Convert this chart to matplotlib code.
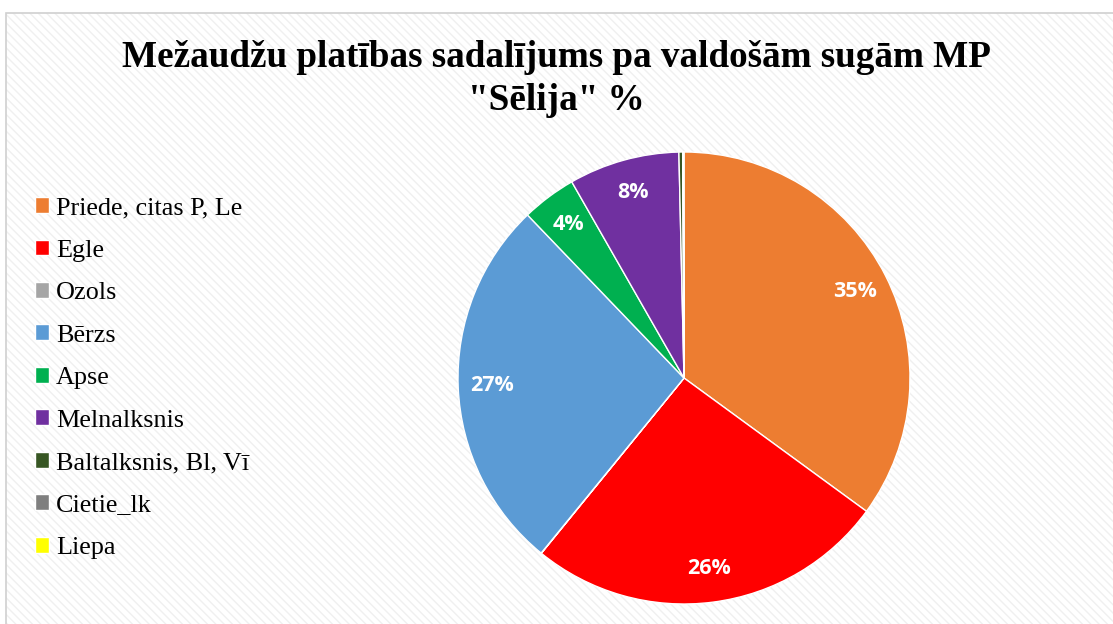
import matplotlib
matplotlib.use("Agg")
import matplotlib.pyplot as plt
from matplotlib.patches import Rectangle

categories = ["Priede, citas P, Le", "Egle", "Ozols", "Bērzs", "Apse",
              "Melnalksnis", "Baltalksnis, Bl, Vī", "Cietie_lk", "Liepa"]
values = [35.0, 25.8, 0.02, 26.9, 3.9, 7.9, 0.28, 0.02, 0.06]
colors = ["#ed7d31", "#ff0000", "#a5a5a5", "#5b9bd5", "#00b050",
          "#7030a0", "#375623", "#7f7f7f", "#ffff00"]
title = "Mežaudžu platības sadalījums pa valdošām sugām MP\n\"Sēlija\" %"

W, H = 1113, 624
fig = plt.figure(figsize=(W / 100, H / 100), dpi=100)
fig.patch.set_facecolor("white")

# hatched background and border
bg = Rectangle((6 / W, 0), 1.2, (H - 13) / H, transform=fig.transFigure,
               facecolor="none", edgecolor="#f0f0f0", hatch="\\\\\\\\", linewidth=0, zorder=0)
fig.patches.append(bg)
border = Rectangle((6 / W, -0.1), 1.2, 0.1 + (H - 13) / H, transform=fig.transFigure,
                   facecolor="none", edgecolor="#d0d0d0", linewidth=1.2, zorder=1)
fig.patches.append(border)

cx, cy, r = 684, 378, 226
ax = fig.add_axes([(cx - r) / W, (H - cy - r) / H, 2 * r / W, 2 * r / H])
ax.set_zorder(5)
ax.patch.set_visible(False)
ax.axis("off")

def fmt(p):
    return f"{p:.0f}%" if p >= 1 else ""

wedges, texts, autotexts = ax.pie(
    values, colors=colors, startangle=90, counterclock=False, radius=1,
    autopct=fmt, pctdistance=0.85,
    wedgeprops=dict(edgecolor="white", linewidth=1),
    textprops=dict(color="white", fontsize=15.5, fontweight="bold", family="Open Sans"))
ax.set_xlim(-1, 1)
ax.set_ylim(-1, 1)

t = fig.text(0.5, 1 - 79 / H, title, ha="center", va="center",
             fontsize=26.7, fontweight="bold", family="Liberation Serif", linespacing=1.3)
t.set_zorder(6)

leg = fig.legend(wedges, categories, loc="center left", bbox_to_anchor=(35 / W, 1 - 378 / H),
                 frameon=False, borderpad=0, borderaxespad=0, handlelength=0.55, handleheight=0.55,
                 handletextpad=0.25, labelspacing=0.78,
                 prop=dict(family="Liberation Serif", size=18.8))
leg.set_zorder(6)

fig.savefig("out.png", dpi=100)
